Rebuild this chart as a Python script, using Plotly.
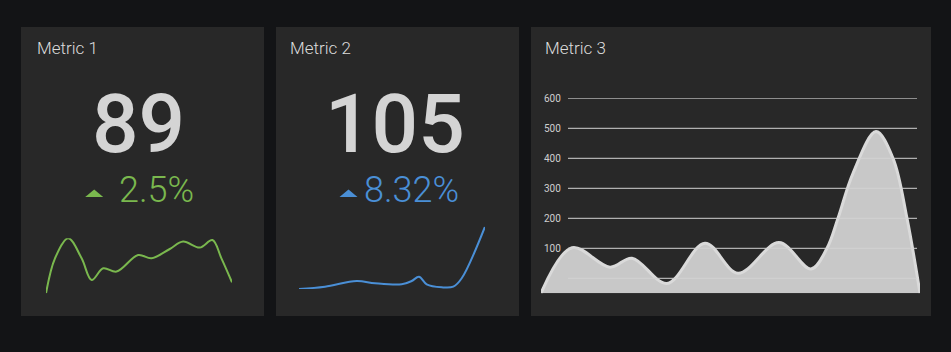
import plotly.graph_objects as go

W, H = 951, 352


def px(x):
    return x / W


def py(y):
    return 1 - y / H


# ---------------- data ----------------
titles = ["Metric 1", "Metric 2", "Metric 3"]
big_values = ["89", "105"]
changes = ["2.5%", "8.32%"]

m1_t = [26, 35, 48.3, 61.7, 71.7, 83.3, 96.7, 118.3, 131.7, 150, 163.3, 180, 192.7, 201.7, 212.3]
m1_v = [0, 35, 55, 35, 13.3, 25, 21.7, 38.3, 35, 44.3, 51.7, 45.7, 53.3, 35, 11]

m2_t = [24, 50, 81.7, 100, 126.7, 136.7, 144, 151.7, 166.7, 178.3, 186.7, 210]
m2_v = [0, 2.3, 8, 5.7, 4.7, 8, 12.3, 4.7, 1.7, 2.3, 10.7, 62.3]

m3_t = [0, 31, 69, 91, 126, 164, 197, 238, 270, 286, 297, 312, 335, 352, 366, 379]
m3_v = [-50, 102, 37, 67, -17, 117, 17, 119, 31, 100, 200, 350, 489, 400, 200, -50]

m3_tick_vals = [0, 100, 200, 300, 400, 500, 600]
m3_tick_text = ["", "100", "200", "300", "400", "500", "600"]
m3_range = [-50, 600]

# ---------------- style ----------------
BG = "#131416"
PANEL = "#282828"
TXT = "#dcdcdc"
GREEN = "#7ab84e"
BLUE = "#4a8fd6"
FONT = "Roboto"

fig = go.Figure()

fig.add_trace(go.Scatter(x=m1_t, y=m1_v, mode="lines",
                         line=dict(color=GREEN, width=2, shape="spline", smoothing=1),
                         xaxis="x", yaxis="y", hoverinfo="skip"))
fig.add_trace(go.Scatter(x=m2_t, y=m2_v, mode="lines",
                         line=dict(color=BLUE, width=2, shape="spline", smoothing=1),
                         xaxis="x2", yaxis="y2", hoverinfo="skip"))
# baseline for the area fill (axis minimum)
fig.add_trace(go.Scatter(x=m3_t, y=[m3_range[0]] * len(m3_t), mode="lines",
                         line=dict(width=0, color="rgba(0,0,0,0)"),
                         xaxis="x3", yaxis="y3", hoverinfo="skip"))
fig.add_trace(go.Scatter(x=m3_t, y=m3_v, mode="lines", fill="tonexty",
                         fillcolor="#c8c8c8",
                         line=dict(color="#dadada", width=3, shape="spline", smoothing=1),
                         xaxis="x3", yaxis="y3", hoverinfo="skip"))

shapes = []
# panels
for (x0, x1) in [(21, 264), (276, 519), (531, 931)]:
    shapes.append(dict(type="rect", xref="paper", yref="paper",
                       x0=px(x0), x1=px(x1), y0=py(316), y1=py(27),
                       fillcolor=PANEL, line=dict(width=0), layer="below"))
# gridlines for metric 3
for v in m3_tick_vals:
    shapes.append(dict(type="line", xref="paper", yref="y3",
                       x0=px(568), x1=px(917), y0=v, y1=v,
                       line=dict(color="#d2d2d2", width=1), layer="above"))
# up-triangles
for (cx, col) in [(94.2, GREEN), (348.5, BLUE)]:
    x0, x1 = px(cx - 9), px(cx + 9)
    yb, yt = py(197), py(189.5)
    shapes.append(dict(type="path", xref="paper", yref="paper",
                       path=f"M {x0} {yb} L {x1} {yb} L {px(cx)} {yt} Z",
                       fillcolor=col, line=dict(width=0)))

annotations = []
for title, x in zip(titles, [35, 288, 543]):
    annotations.append(dict(text=title, x=px(x), y=py(48), xref="paper", yref="paper",
                            xanchor="left", yanchor="middle", showarrow=False,
                            font=dict(family=FONT, size=17, color=TXT, weight=300)))
for val, cx in zip(big_values, [138, 395]):
    annotations.append(dict(text=val, x=px(cx), y=py(124), xref="paper", yref="paper",
                            xanchor="center", yanchor="middle", showarrow=False,
                            font=dict(family=FONT, size=82, color="#d4d4d4", weight=500)))
for ch, x, col in zip(changes, [117, 362], [GREEN, BLUE]):
    annotations.append(dict(text=ch, x=px(x), y=py(190), xref="paper", yref="paper",
                            xanchor="left", yanchor="middle", showarrow=False,
                            font=dict(family=FONT, size=36, color=col, weight=300)))
for v, t in zip(m3_tick_vals, m3_tick_text):
    if t:
        annotations.append(dict(text=t, x=px(542), y=v, xref="paper", yref="y3",
                                xanchor="left", yanchor="middle", showarrow=False,
                                font=dict(family=FONT, size=10, color="#cfcfcf")))

hidden = dict(visible=False, fixedrange=True)
fig.update_layout(
    width=W, height=H, margin=dict(l=0, r=0, t=0, b=0),
    paper_bgcolor=BG, plot_bgcolor="rgba(0,0,0,0)", showlegend=False,
    xaxis=dict(domain=[px(46), px(232)], range=[m1_t[0], m1_t[-1]], **hidden),
    yaxis=dict(domain=[py(293.3), py(238.3)], range=[0, 55], **hidden),
    xaxis2=dict(domain=[px(299), px(485)], range=[m2_t[0], m2_t[-1]], anchor="y2", **hidden),
    yaxis2=dict(domain=[py(289), py(226.7)], range=[0, 62.3], anchor="x2", **hidden),
    xaxis3=dict(domain=[px(541), px(920)], range=[m3_t[0], m3_t[-1]], anchor="y3", **hidden),
    yaxis3=dict(domain=[py(293.3), py(98.3)], range=m3_range, anchor="x3", **hidden),
    shapes=shapes, annotations=annotations,
)

fig.write_html("out.html")
